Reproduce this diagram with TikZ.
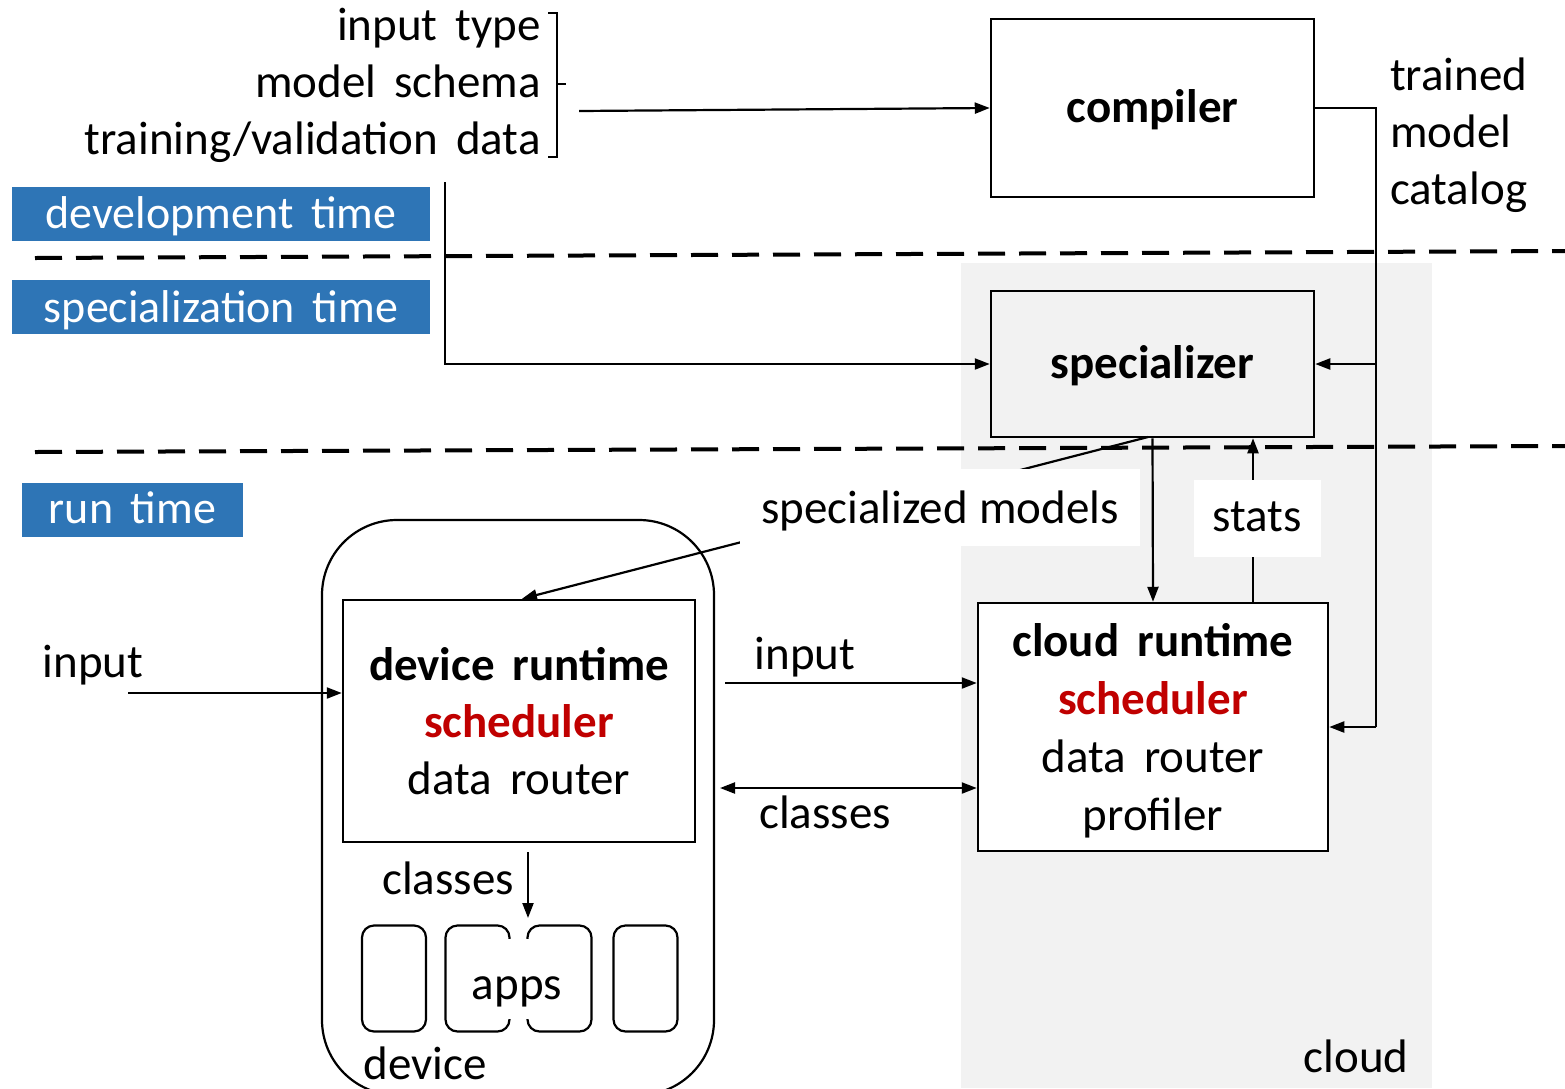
\documentclass[tikz,border=0pt]{standalone}
\usepackage{fontspec}
\setmainfont[WordSpace=1.7]{Carlito}
\usetikzlibrary{arrows.meta,calc}
\definecolor{tblue}{HTML}{2E75B6}
\definecolor{tred}{HTML}{C00000}
\definecolor{cgray}{HTML}{F2F2F2}
\newcommand\dnshift[2]{\raisebox{-#1}[0.72em][0.22em]{#2}}
\begin{document}
\begin{tikzpicture}[x=1pt,y=-1pt,
  txt/.style={font=\fontsize{47}{57}\selectfont, inner sep=0pt},
  btxt/.style={font=\fontsize{47}{57}\selectfont\bfseries, inner sep=0pt},
  box/.style={draw, line width=2.5pt, inner sep=0pt},
  arr/.style={line width=2.2pt, -{Triangle[length=15pt,width=11pt]}},
  ln/.style={line width=2.2pt},
  phase/.style={fill=tblue, text=white, font=\fontsize{46}{54}\selectfont, inner sep=0pt, minimum height=54pt},
  sepline/.style={line width=4pt, dash pattern=on 27pt off 14pt},
  appbox/.style={draw, line width=2.2pt, rounded corners=12pt, minimum width=64pt, minimum height=106pt, inner sep=0pt},
  lblbox/.style={fill=white, font=\fontsize{47}{57}\selectfont, inner sep=0pt}
]
\useasboundingbox (0,0) rectangle (1565,1088);
\clip (0,0) rectangle (1565,1088);

% cloud region
\node[fill=cgray, minimum width=471pt, minimum height=825pt, anchor=north west, inner sep=0pt] (cloudreg) at (961,263) {};
\node[txt] (cloudlbl) at (1356,1056) {cloud};

% separators
\coordinate (s1a) at (35,258); \coordinate (s1b) at (1565,251);
\coordinate (s2a) at (35,452); \coordinate (s2b) at (1565,446);

% phase labels
\node[phase, minimum width=418pt] (devt) at (221,214) {\dnshift{3pt}{development time}};
\node[phase, minimum width=418pt] (spect) at (221,307) {\dnshift{4pt}{specialization time}};
\node[phase, minimum width=221pt] (runt) at (132.5,510) {\dnshift{2pt}{run time}};

% top-left inputs
\node[txt, align=right, anchor=east] (inputs) at (541,85) {input type\\model schema\\training/validation data};
\coordinate (brT) at (548,13); \coordinate (brB) at (548,157);
\draw[line width=2pt] (brT) -- (557,13) -- (557,157) -- (brB);
\draw[line width=2pt] (557,84) -- (566,84);

% compiler
\node[box, minimum width=323pt, minimum height=178pt, btxt] (compiler) at (1152.5,108) {\dnshift{3pt}{compiler}};
\coordinate (inarr) at (579,111);
\draw[arr] (inarr) -- (compiler.west);

% catalog
\node[txt, align=left, anchor=west] (catalog) at (1390,135) {trained\\model\\catalog};

% specializer
\node[box, fill=cgray, minimum width=323pt, minimum height=146pt, btxt] (spec) at (1152.5,364) {\dnshift{3pt}{specializer}};

% cloud runtime
\node[box, fill=white, minimum width=350pt, minimum height=248pt] (cloudrt) at (1153,727) {};
\node[align=center, inner sep=0pt, font=\fontsize{47}{58}\selectfont] (cloudtxt) at (1153,730.5)
  {\bfseries cloud runtime\\\bfseries\color{tred}scheduler\\data router\\profiler};

% device
\node[draw, line width=2.2pt, rounded corners=75pt, minimum width=392pt, minimum height=575pt, inner sep=0pt] (device) at (518,807.5) {};
\node[txt] (devlbl) at (425,1063) {device};
\node[box, fill=white, minimum width=352pt, minimum height=242pt, txt, align=center] (devrt) at (519,721)
  {\bfseries device runtime\\\bfseries\color{tred}scheduler\\data router};

% apps
\node[appbox] (app1) at (394,978.5) {};
\node[appbox] (app2) at (477.5,978.5) {};
\node[appbox] (app3) at (559.5,978.5) {};
\node[appbox] (app4) at (645.5,978.5) {};
\node[txt, fill=white, minimum height=80pt, inner xsep=2pt] (apps) at (517,979) {\dnshift{9pt}{apps}};

% dashed separators
\draw[sepline] (s1a) -- (s1b);
\draw[sepline] (s2a) -- (s2b);

% catalog bus
\coordinate (busTop) at (1376,108);
\coordinate (busMid) at (1376,364);
\coordinate (busBot) at (1376,727);
\draw[ln] (compiler.east) -- (busTop) -- (busBot);
\draw[arr] (busMid) -- (spec.east);
\draw[arr] (busBot) -- (cloudrt.east);

% dev -> specializer
\coordinate (devstart) at (445,182);
\draw[arr] (devstart) |- (spec.west);

% specializer -> cloud runtime
\draw[arr] (spec.south) -- (cloudrt.north);

% stats
\coordinate (statsA) at (1253,603);
\draw[arr] (statsA) -- (statsA |- spec.south);
\node[lblbox, minimum width=127pt, minimum height=77pt] (stats) at (1257,518) {\dnshift{2pt}{stats}};

% specialized models
\coordinate (smA) at (1148,437);
\draw[arr] (smA) -- ($(devrt.north)+(3,0)$);
\node[lblbox, minimum width=400pt, minimum height=77pt] (smlbl) at (940,507) {\dnshift{5pt}{\spaceskip=11pt specialized models}};

% input left
\node[txt] (inL) at (93,665) {input};
\coordinate (inLs) at (128,693);
\draw[arr] (inLs) -- (devrt.west |- inLs);

% input right
\node[txt] (inR) at (805,657) {input};
\coordinate (inRs) at (725,683);
\draw[arr] (inRs) -- (cloudrt.west |- inRs);

% classes both
\node[txt] (clR) at (825,812) {classes};
\coordinate (clA) at (720,788);
\draw[line width=2.2pt, {Triangle[length=15pt,width=11pt]}-{Triangle[length=15pt,width=11pt]}] (clA) -- (cloudrt.west |- clA);

% classes down
\node[txt] (clL) at (448,878) {classes};
\coordinate (clD) at (528,852);
\coordinate (appsTop) at (528,918);
\draw[arr] (clD) -- (appsTop);
\end{tikzpicture}
\end{document}
